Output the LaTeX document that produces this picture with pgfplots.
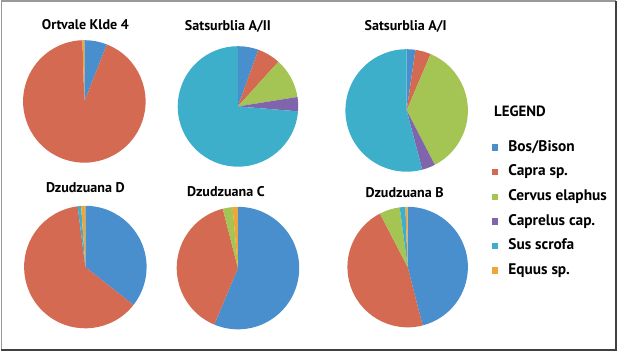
\documentclass[border=0pt]{standalone}
\usepackage{pgfplots}
\pgfplotsset{compat=1.18}
\usepackage{pgfplotstable}
\usepackage{fontspec}
\setmainfont{PT Sans}
\definecolor{cBos}{RGB}{74,143,205}
\definecolor{cCapra}{RGB}{213,106,83}
\definecolor{cCervus}{RGB}{164,196,84}
\definecolor{cCaprelus}{RGB}{128,100,172}
\definecolor{cSus}{RGB}{62,175,203}
\definecolor{cEquus}{RGB}{238,165,58}
% pie centres (image coords), radius, shares in percent
\pgfplotstableread{
cx  cy  rad bos  capra cervus caprelus sus  equus
86  103 61  6.0  93.5  0      0        0    0.5
239 108 60  5.5  6.2   10.8   3.8      73.7 0
407 112 61  2.3  4.1   36.0   3.5      54.1 0
87  268 61  35.6 62.4  0      0        0.9  1.1
239 269 61  56.3 39.7  2.6    0        0    1.4
408 268 60  46.0 46.4  5.5    0        1.5  0.6
}\piedata
\begin{document}
\begin{tikzpicture}
\begin{axis}[
  scale only axis, width=617pt, height=352pt,
  xmin=0, xmax=617, ymin=0, ymax=352, y dir=reverse,
  hide axis, clip=false,
  legend image code/.code={\fill[#1] (0pt,-2.6pt) rectangle (5.2pt,2.6pt);},
  legend style={at={(axis cs:489,140)}, anchor=north west, draw=none, fill=none,
    font=\bfseries\fontsize{15.3}{17}\selectfont,
    nodes={inner sep=0pt, text height=10.5pt, text depth=2.5pt, anchor=west},
    row sep=11.5pt, column sep=0pt,
    /tikz/every odd column/.append style={column sep=10.5pt}},
]
\pgfplotsextra{
  \pgfplotstablegetrowsof{\piedata}
  \pgfmathtruncatemacro\nrows{\pgfplotsretval-1}
  \foreach \row in {0,...,\nrows}{
    \pgfplotstablegetelem{\row}{cx}\of\piedata \let\pcx\pgfplotsretval
    \pgfplotstablegetelem{\row}{cy}\of\piedata \let\pcy\pgfplotsretval
    \pgfplotstablegetelem{\row}{rad}\of\piedata \let\prad\pgfplotsretval
    \gdef\cum{0}
    \foreach \col/\clr in {bos/cBos,capra/cCapra,cervus/cCervus,caprelus/cCaprelus,sus/cSus,equus/cEquus}{
      \pgfplotstablegetelem{\row}{\col}\of\piedata
      \pgfmathsetmacro\val{\pgfplotsretval}
      \pgfmathsetmacro\aS{90-3.6*\cum}
      \pgfmathsetmacro\aE{90-3.6*(\cum+\val)}
      \ifdim\val pt>0pt
        \fill[\clr] (axis cs:\pcx,\pcy) -- ++(\aS:\prad pt) arc[start angle=\aS, end angle=\aE, radius=\prad pt] -- cycle;
      \fi
      \pgfmathsetmacro\newcum{\cum+\val}
      \global\let\cum\newcum
    }
  }
}
\addlegendimage{cBos}\addlegendentry{Bos/Bison}
\addlegendimage{cCapra}\addlegendentry{Capra sp.}
\addlegendimage{cCervus}\addlegendentry{Cervus elaphus}
\addlegendimage{cCaprelus}\addlegendentry{Caprelus cap.}
\addlegendimage{cSus}\addlegendentry{Sus scrofa}
\addlegendimage{cEquus}\addlegendentry{Equus sp.}
% frame
\draw[black!40, line width=1pt] (axis cs:3,350) -- (axis cs:3,3) -- (axis cs:615,3);
\draw[black!75, line width=2pt] (axis cs:3,350.5) -- (axis cs:615.5,350.5) -- (axis cs:615.5,3);
% titles
\begin{scope}[every node/.style={anchor=base, font=\bfseries\fontsize{14}{16}\selectfont, inner sep=0pt}]
\node at (axis cs:87,31.7) {Ortvale Klde 4};
\node at (axis cs:229,32.7) {Satsurblia A/II};
\node at (axis cs:406,32.7) {Satsurblia A/I};
\node at (axis cs:87,194) {Dzudzuana D};
\node at (axis cs:227,197.3) {Dzudzuana C};
\node at (axis cs:405,198.3) {Dzudzuana B};
\node[anchor=base west, font=\bfseries\fontsize{14.8}{16}\selectfont] at (axis cs:494,118.3) {LEGEND};
\end{scope}
\end{axis}
\end{tikzpicture}
\end{document}
